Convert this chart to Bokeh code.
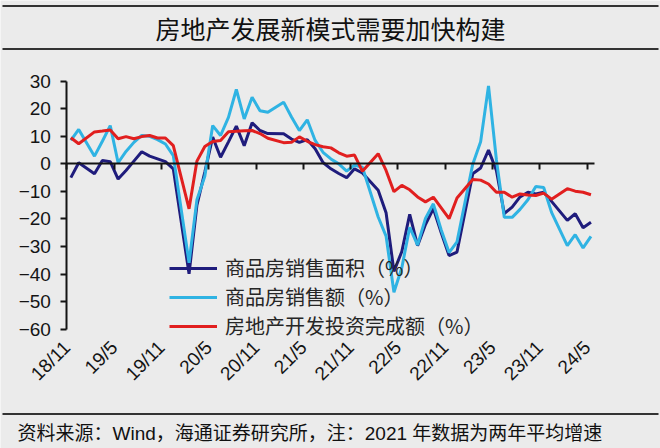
import math
import pandas as pd
from bokeh.plotting import figure
from bokeh.models import Legend, LegendItem, FixedTicker, LinearAxis, Range1d
from bokeh.core.properties import value
from bokeh.embed import file_html
from bokeh.resources import INLINE

# ---------------- data ----------------
# monthly observations (January is reported together with February)
months = [p.strftime("%Y-%m") for p in pd.period_range("2018-11", "2024-05", freq="M") if p.month != 1]

sales_area = [-5.0, 0.4, -3.6, 1.2, 0.8, -5.5, -2.4, 1.0, 4.4, 2.8, 1.8, 0.8, -1.8,
              -39.9, -15.0, -3.0, 9.7, 2.4, 8.0, 13.7, 6.6, 14.9, 12.1, 11.0,
              10.9, 9.0, 7.8, 8.8, 5.5, 0.5, -1.8, -3.5, -5.0, -1.8, -3.3,
              -9.6, -17.7, -39.0, -31.8, -18.3, -29.7, -22.0, -16.2, -25.0, -33.3, -32.0,
              -3.6, -1.5, 5.0, -2.4, -18.0, -15.7, -12.0, -10.3, -10.9, -10.3, -13.6,
              -20.5, -18.1, -23.2, -21.2]

sales_value = [8.5, 12.5, 2.8, 8.2, 13.9, 0.4, 4.5, 7.8, 10.3, 10.0, 8.8, 7.2, 3.0,
               -35.9, -13.0, -4.5, 13.9, 10.3, 16.9, 27.0, 16.3, 24.2, 19.3, 18.7,
               22.4, 17.0, 12.1, 16.0, 8.5, 4.2, 1.8, 0.0, -2.6, -0.5, -1.2,
               -19.3, -26.2, -46.6, -37.7, -23.0, -29.5, -19.8, -14.5, -24.0, -32.2, -28.3,
               -0.1, 8.0, 28.3, 1.5, -19.4, -19.4, -16.5, -13.0, -8.2, -8.6, -17.6,
               -29.7, -25.7, -30.5, -26.3]

investment = [9.5, 7.3, 11.6, 11.9, 12.3, 9.1, 9.9, 9.1, 9.9, 10.3, 9.4, 9.4, 6.6,
              -16.3, 1.0, 6.3, 8.1, 8.5, 11.7, 11.8, 12.0, 12.1, 11.0, 9.3,
              7.7, 7.8, 9.8, 8.2, 7.0, 6.2, 5.8, 4.0, 2.8, 3.2, -2.7,
              3.7, -2.4, -10.1, -7.8, -9.4, -12.0, -13.8, -12.1, -16.0, -19.9, -12.4,
              -5.7, -5.9, -7.3, -10.3, -10.3, -12.1, -10.9, -11.3, -11.5, -10.6, -12.8,
              -9.0, -9.9, -10.3, -11.2]

series_names = ["商品房销售面积（%）", "商品房销售额（%）", "房地产开发投资完成额（%）"]
tick_labels = ["18/11", "19/5", "19/11", "20/5", "20/11", "21/5",
               "21/11", "22/5", "22/11", "23/5", "23/11", "24/5"]
y_ticks = [30, 20, 10, 0, -10, -20, -30, -40, -50, -60]

title_text = "房地产发展新模式需要加快构建"
footer_text = "资料来源：Wind，海通证券研究所，注：2021 年数据为两年平均增速"

# --------------- positions (months since 2018-11, points at mid-month) ---------------
start = pd.Period("2018-11", "M")
xs = [(pd.Period(m, "M") - start).n + 0.5 for m in months]
tick_pos = [(pd.Period("20" + t.split("/")[0] + "-" + t.split("/")[1].zfill(2), "M") - start).n
            for t in tick_labels]
X_END = 67          # axis runs to 2024-06
Y_MIN, Y_MAX = -60, 30

# ---------------- page geometry (pixels) ----------------
W, H = 660, 448
PLOT_L, PLOT_R = 66.4, 594.4     # x axis extent in pixels
PLOT_T, PLOT_B = 80.7, 328.7     # y axis extent in pixels
sx = (PLOT_R - PLOT_L) / X_END
sy = (PLOT_B - PLOT_T) / (Y_MAX - Y_MIN)


def px_x(px):
    return (px - PLOT_L) / sx


def px_y(py):
    return Y_MAX - (py - PLOT_T) / sy


BG = "#ebebeb"
INK = "#141414"
RULE = "#333333"
COLORS = ["#1f1c7c", "#2fb3e3", "#e11f1f"]

p = figure(width=W, height=H, title=None,
           x_range=Range1d(px_x(0), px_x(W)), y_range=Range1d(px_y(H), px_y(0)),
           output_backend="svg", toolbar_location=None, min_border=0,
           background_fill_color=BG, border_fill_color=BG, outline_line_color=None)
p.grid.visible = False

# y axis (drawn at x = 0)
ya = p.yaxis[0]
ya.fixed_location = 0
ya.bounds = (Y_MIN, Y_MAX)
ya.ticker = FixedTicker(ticks=y_ticks)
ya.axis_line_color = INK
ya.axis_line_width = 2
ya.major_tick_line_color = INK
ya.major_tick_line_width = 2
ya.major_tick_out = 6
ya.major_tick_in = 0
ya.minor_tick_line_color = None
ya.major_label_standoff = 10
ya.major_label_text_font = "Liberation Sans"
ya.major_label_text_font_size = "19px"
ya.major_label_text_color = INK

# x axis labels (drawn at the bottom of the value range)
xa = p.xaxis[0]
xa.fixed_location = Y_MIN
xa.bounds = (0, X_END)
xa.ticker = FixedTicker(ticks=tick_pos)
xa.major_label_overrides = {tp: lab for tp, lab in zip(tick_pos, tick_labels)}
xa.major_label_orientation = math.pi / 4
xa.axis_line_color = None
xa.major_tick_line_color = None
xa.minor_tick_line_color = None
xa.major_tick_out = 0
xa.major_tick_in = 0
xa.major_label_standoff = 15
xa.major_label_text_font = "Liberation Sans"
xa.major_label_text_font_size = "19px"
xa.major_label_text_color = INK

# zero line with downward ticks
za = LinearAxis(fixed_location=0, bounds=(0, X_END), ticker=FixedTicker(ticks=tick_pos),
                axis_line_color=INK, axis_line_width=2,
                major_tick_line_color=INK, major_tick_line_width=2,
                major_tick_out=6, major_tick_in=0, minor_tick_line_color=None,
                major_label_text_color=None, major_label_text_font_size="1px")
p.add_layout(za, "below")

renderers = []
for vals, col in zip([sales_area, sales_value, investment], COLORS):
    renderers.append(p.line(xs, vals, line_color=col, line_width=3))

legend = Legend(items=[LegendItem(label=n, renderers=[r]) for n, r in zip(series_names, renderers)],
                location=(169, H - 340), background_fill_alpha=0, border_line_color=None,
                padding=0, margin=0, spacing=-8, label_height=20, glyph_height=20,
                glyph_width=48, label_standoff=8,
                label_text_font="Noto Sans CJK SC", label_text_font_size="20px",
                label_text_color="#262626")
p.add_layout(legend)

# title band and footer band
rule_y = [px_y(5.5), px_y(48.5), px_y(413.5)]
p.segment(x0=[px_x(2)] * 3, y0=rule_y, x1=[px_x(658)] * 3, y1=rule_y,
          line_color=RULE, line_width=2)
p.text(x=[px_x(W / 2)], y=[px_y(27.5)], text=[title_text], text_align="center",
       text_baseline="middle", text_font=value("Noto Sans CJK SC"),
       text_font_size="25px", text_color="#111111")
p.text(x=[px_x(17)], y=[px_y(432.5)], text=[footer_text], text_align="left",
       text_baseline="middle", text_font=value("'Liberation Sans', 'Noto Sans CJK SC'"),
       text_font_size="19px", text_color="#111111")

open("out.html", "w").write(file_html(p, INLINE))
